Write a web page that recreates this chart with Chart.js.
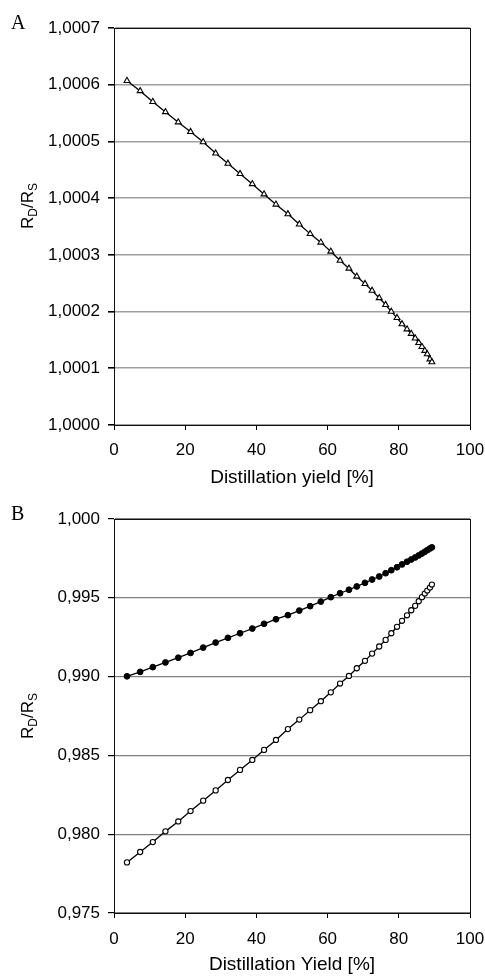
<!DOCTYPE html>
<html><head><meta charset="utf-8">
<script src="https://cdn.jsdelivr.net/npm/chart.js@4.4.1/dist/chart.umd.min.js"></script>
<style>
html,body{margin:0;padding:0;background:#fff;width:485px;height:977px;overflow:hidden;}
.box{position:absolute;left:0;width:485px;}
#boxA{top:0;height:495px;}
#boxB{top:495px;height:482px;}
canvas{display:block;}
</style></head><body>
<div class="box" id="boxA"><canvas id="cA"></canvas></div>
<div class="box" id="boxB"><canvas id="cB"></canvas></div>
<script>
// ---- data ----
const yieldPct = [3.65, 7.35, 10.9, 14.45, 18.05, 21.5, 25.05, 28.55, 32.0, 35.4,
  38.85, 42.15, 45.5, 48.85, 52.05, 55.1, 58.1, 60.9, 63.5, 66.0,
  68.2, 70.5, 72.5, 74.5, 76.3, 77.9, 79.5, 80.9, 82.3, 83.5,
  84.6, 85.6, 86.5, 87.3, 88.0, 88.75, 89.3];
const ratioA = [1.000607, 1.000589, 1.000570, 1.000552, 1.000534, 1.000517, 1.000499, 1.000479, 1.000461, 1.000443,
  1.000425, 1.000407, 1.000389, 1.000372, 1.000354, 1.000337, 1.000322, 1.000306, 1.000290, 1.000276,
  1.000262, 1.000249, 1.000237, 1.000224, 1.000212, 1.000200, 1.000189, 1.000178, 1.000169, 1.000161,
  1.000153, 1.000145, 1.000138, 1.000131, 1.000125, 1.000116, 1.000111];
const ratioFilled = [0.99002, 0.99030, 0.99060, 0.99090, 0.99120, 0.99150, 0.99184, 0.99216, 0.99246, 0.99275,
  0.99305, 0.99335, 0.99364, 0.99390, 0.99419, 0.99447, 0.99476, 0.99504, 0.99529, 0.99551,
  0.99572, 0.99595, 0.99616, 0.99635, 0.99656, 0.99675, 0.99694, 0.99712, 0.99729, 0.99743,
  0.99756, 0.99769, 0.99781, 0.99792, 0.99802, 0.99813, 0.99820];
const ratioOpen = [0.97821, 0.97887, 0.97950, 0.98018, 0.98081, 0.98147, 0.98213, 0.98278, 0.98344, 0.98408,
  0.98471, 0.98535, 0.98598, 0.98667, 0.98727, 0.98787, 0.98844, 0.98900, 0.98956, 0.99004,
  0.99053, 0.99100, 0.99146, 0.99191, 0.99233, 0.99275, 0.99316, 0.99354, 0.99389, 0.99421,
  0.99449, 0.99478, 0.99504, 0.99527, 0.99546, 0.99565, 0.99584];
const xTicks = [0, 20, 40, 60, 80, 100];
const yTicksA = [1.0000, 1.0001, 1.0002, 1.0003, 1.0004, 1.0005, 1.0006, 1.0007];
const yTicksB = [0.975, 0.980, 0.985, 0.990, 0.995, 1.000];
const xTitleA = 'Distillation yield [%]';
const xTitleB = 'Distillation Yield [%]';

const SANS = '"Liberation Sans", Arial, sans-serif';
const SERIF = '"Liberation Serif", "Times New Roman", serif';

function pts(ys){ return yieldPct.map((x,i)=>({x:x, y:ys[i]})); }

const framePlugin = {
  id:'frame',
  beforeDatasetsDraw(chart){
    const a = chart.chartArea, ctx = chart.ctx;
    ctx.save();
    ctx.strokeStyle = '#111';
    ctx.lineWidth = 1;
    ctx.strokeRect(Math.round(a.left)+0.5, Math.round(a.top)+0.5, Math.round(a.right-a.left), Math.round(a.bottom-a.top));
    ctx.restore();
  }
};

function textPlugin(letter, letterY, titleCY){
  return {
    id:'texts',
    afterDraw(chart){
      const ctx = chart.ctx;
      ctx.save();
      ctx.fillStyle = '#000';
      ctx.font = '20px ' + SERIF;
      ctx.textBaseline = 'alphabetic';
      ctx.textAlign = 'left';
      ctx.fillText(letter, 11, letterY);
      // rotated y title R_D/R_S
      const big = '17px ' + SANS, small = '12px ' + SANS;
      const parts = [['R', big, 0], ['D', small, 4], ['/R', big, 0], ['S', small, 4]];
      let total = 0;
      parts.forEach(p=>{ ctx.font = p[1]; total += ctx.measureText(p[0]).width; });
      ctx.translate(33, titleCY);
      ctx.rotate(-Math.PI/2);
      let x = -total/2;
      parts.forEach(p=>{ ctx.font = p[1]; ctx.fillText(p[0], x, p[2]); x += ctx.measureText(p[0]).width; });
      ctx.restore();
    }
  };
}

function makeChart(id, datasets, yTicks, dec, xTitle, area, titlePadBottom, tickPad, letter, letterY, titleCY, gridColor, gridWidth){
  const canvasH = document.getElementById(id).parentNode.clientHeight;
  return new Chart(document.getElementById(id), {
    type:'scatter',
    data:{datasets},
    options:{
      responsive:true, maintainAspectRatio:false, animation:false, devicePixelRatio:1,
      layout:{padding:{left:0, right:485-area.right, top:area.top, bottom:0}},
      plugins:{legend:{display:false}, tooltip:{enabled:false}},
      scales:{
        x:{
          type:'linear', min:0, max:100,
          afterFit(s){ s.height = canvasH - area.bottom; s.paddingLeft = 0; s.paddingRight = 0; },
          afterBuildTicks(s){ s.ticks = xTicks.map(v=>({value:v})); },
          ticks:{color:'#000', font:{family:SANS, size:17}, padding:tickPad, maxRotation:0, autoSkip:false},
          grid:{drawOnChartArea:false, drawTicks:true, tickLength:5, tickColor:'#000'},
          border:{display:true, color:'#111', width:1},
          title:{display:true, text:xTitle, color:'#000', font:{family:SANS, size:19}, padding:{top:0, bottom:titlePadBottom}}
        },
        y:{
          type:'linear', min:yTicks[0], max:yTicks[yTicks.length-1],
          afterFit(s){ s.width = area.left; s.paddingTop = 0; s.paddingBottom = 0; },
          afterBuildTicks(s){ s.ticks = yTicks.map(v=>({value:v})); },
          ticks:{color:'#000', font:{family:SANS, size:17}, padding:8, autoSkip:false,
            callback:(v)=>Number(v).toFixed(dec).replace('.', ',')},
          grid:{color:gridColor, lineWidth:gridWidth, drawTicks:true, tickLength:6, tickColor:'#000'},
          border:{display:true, color:'#111', width:1}
        }
      }
    },
    plugins:[framePlugin, textPlugin(letter, letterY, titleCY)]
  });
}

makeChart('cA', [{
  data:pts(ratioA), showLine:true, borderColor:'#000', borderWidth:1.3,
  pointStyle:'triangle', pointRadius:3.4, pointBackgroundColor:'#fff', pointBorderColor:'#000', pointBorderWidth:1.1
}], yTicksA, 4, xTitleA, {left:114, right:470, top:28, bottom:425}, 6, 10, 'A', 29, 206, '#a0a0a0', 1.6);

makeChart('cB', [{
  data:pts(ratioFilled), showLine:true, borderColor:'#000', borderWidth:1.3,
  pointStyle:'circle', pointRadius:2.9, pointBackgroundColor:'#000', pointBorderColor:'#000', pointBorderWidth:1
},{
  data:pts(ratioOpen), showLine:true, borderColor:'#000', borderWidth:1.3,
  pointStyle:'circle', pointRadius:2.6, pointBackgroundColor:'#fff', pointBorderColor:'#000', pointBorderWidth:1.1
}], yTicksB, 3, xTitleB, {left:114, right:470, top:24, bottom:418}, 1, 11, 'B', 25, 221, '#808080', 1.2);
</script>
</body></html>
